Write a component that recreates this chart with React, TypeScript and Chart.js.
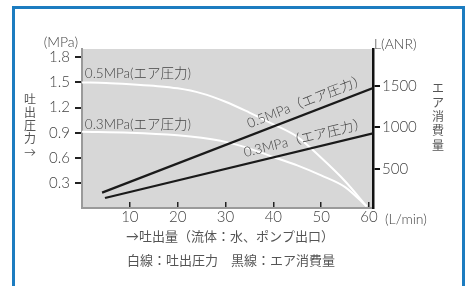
import { useEffect, useRef } from 'react';
import { Chart, registerables } from 'chart.js';

Chart.register(...registerables);

// ---- data ----
const flowTicks = [10, 20, 30, 40, 50, 60];
const pressureTicks = [0.3, 0.6, 0.9, 1.2, 1.5, 1.8];
const airTicks = [500, 1000, 1500];

const flowMin = 0;
const flowMax = 60.83;
const pressureMin = 0;
const pressureMax = 1.9;
const airMin = 30;
const airMax = 1945;

// white lines: discharge pressure (MPa) vs flow (L/min)
const white05Flow = [0, 5, 10, 15, 20, 25, 30, 35, 40, 45, 50, 55, 59.5];
const white05Pressure = [1.5, 1.495, 1.48, 1.46, 1.43, 1.37, 1.27, 1.14, 1.0, 0.85, 0.6, 0.32, 0.02];
const white03Flow = [0, 10, 20, 25, 30, 35, 40, 45, 50, 55, 59.5];
const white03Pressure = [0.91, 0.9, 0.87, 0.84, 0.79, 0.71, 0.61, 0.51, 0.39, 0.25, 0.02];

// black lines: air consumption L(ANR) vs flow
const black05Flow = [4.2, 60.83];
const black05Air = [215, 1475];
const black03Flow = [4.8, 60.83];
const black03Air = [150, 930];

const curveLabels = ['0.5MPa(エア圧力)', '0.3MPa(エア圧力)'];
const curveLabelFlow = [0.6, 0.6];
const curveLabelPressure = [1.61, 1.0];
const lineLabels = ['0.5MPa（エア圧力）', '0.3MPa（エア圧力）'];
const lineLabelStartFlow = [35.5, 34.4];

const leftTitle = ['吐', '出', '圧', '力', '→'];
const rightTitle = ['エ', 'ア', '消', '費', '量'];
const xTitle = '→吐出量（流体：水、ポンプ出口）';
const legendText = '白線：吐出圧力　黒線：エア消費量';

const FAM = 'Lato, "Noto Sans CJK JP", sans-serif';
const TXT = '#444444';

const toPts = (xs: number[], ys: number[]) => xs.map((x, i) => ({ x, y: ys[i] }));

const deco = {
  id: 'deco',
  beforeDraw(chart: any) {
    const { ctx, chartArea: a } = chart;
    ctx.save();
    ctx.fillStyle = '#ffffff';
    ctx.fillRect(0, 0, chart.width, chart.height);
    ctx.strokeStyle = '#1c7cc0';
    ctx.lineWidth = 3;
    ctx.strokeRect(13.5, 7.5, 450, 300);
    ctx.fillStyle = '#d7d7d7';
    ctx.fillRect(a.left, a.top, a.right - a.left, a.bottom - a.top);
    ctx.restore();
  },
  afterDraw(chart: any) {
    const { ctx, chartArea: a, scales } = chart;
    const xs = scales.x;
    const ys = scales.y;
    const y2 = scales.y2;
    ctx.save();
    ctx.fillStyle = TXT;

    // unit labels
    ctx.font = `300 14px ${FAM}`;
    ctx.textBaseline = 'middle';
    ctx.textAlign = 'right';
    ctx.fillText('(MPa)', a.left - 4, a.top - 7);
    ctx.textAlign = 'left';
    ctx.fillText('L(ANR)', a.right + 1, a.top - 5);
    ctx.fillText('(L/min)', a.right + 12, a.bottom + 11);

    // vertical titles
    ctx.fillStyle = '#555';
    ctx.font = `12px ${FAM}`;
    ctx.textAlign = 'center';
    leftTitle.forEach((c, i) => ctx.fillText(c, 30, 100 + i * 13));
    rightTitle.forEach((c, i) => ctx.fillText(c, 438, 89 + i * 14.2));

    // bottom captions
    ctx.font = `13px ${FAM}`;
    ctx.fillText(xTitle, 230, a.bottom + 29);
    ctx.fillText(legendText, 231, a.bottom + 53);

    // horizontal curve labels
    ctx.fillStyle = TXT;
    ctx.textAlign = 'left';
    ctx.font = `300 13.5px ${FAM}`;
    curveLabels.forEach((t, i) => {
      ctx.fillText(t, xs.getPixelForValue(curveLabelFlow[i]), ys.getPixelForValue(curveLabelPressure[i]));
    });

    // rotated labels along black lines
    const lines = [
      [black05Flow, black05Air],
      [black03Flow, black03Air],
    ];
    ctx.textBaseline = 'alphabetic';
    lines.forEach(([fx, fy], i) => {
      const x0 = xs.getPixelForValue(fx[0]);
      const y0 = y2.getPixelForValue(fy[0]);
      const x1 = xs.getPixelForValue(fx[1]);
      const y1 = y2.getPixelForValue(fy[1]);
      const ang = Math.atan2(y1 - y0, x1 - x0);
      const t = (lineLabelStartFlow[i] - fx[0]) / (fx[1] - fx[0]);
      ctx.save();
      ctx.translate(x0 + t * (x1 - x0), y0 + t * (y1 - y0));
      ctx.rotate(ang);
      ctx.fillText(lineLabels[i], 0, -7);
      ctx.restore();
    });
    ctx.restore();
  },
};

export default function App() {
  const ref = useRef<HTMLCanvasElement>(null);
  useEffect(() => {
    document.body.style.margin = '0';
    const tickFont = { family: FAM, size: 15, weight: '300' as any };
    const chart = new Chart(ref.current!, {
      type: 'line',
      data: {
        datasets: [
          {
            data: toPts(black05Flow, black05Air),
            yAxisID: 'y2',
            borderColor: '#1a1a1a',
            borderWidth: 2.2,
            pointRadius: 0,
          },
          {
            data: toPts(black03Flow, black03Air),
            yAxisID: 'y2',
            borderColor: '#1a1a1a',
            borderWidth: 2.2,
            pointRadius: 0,
          },
          {
            data: toPts(white05Flow, white05Pressure),
            yAxisID: 'y',
            borderColor: '#ffffff',
            borderWidth: 2,
            pointRadius: 0,
            cubicInterpolationMode: 'monotone',
          },
          {
            data: toPts(white03Flow, white03Pressure),
            yAxisID: 'y',
            borderColor: '#ffffff',
            borderWidth: 2,
            pointRadius: 0,
            cubicInterpolationMode: 'monotone',
          },
        ],
      },
      plugins: [deco],
      options: {
        animation: false,
        responsive: false,
        devicePixelRatio: 1,
        layout: { padding: { top: 49, left: 0, right: 0, bottom: 0 } },
        plugins: { legend: { display: false }, tooltip: { enabled: false } },
        scales: {
          x: {
            type: 'linear',
            position: 'bottom',
            min: flowMin,
            max: flowMax,
            afterBuildTicks: (s: any) => {
              s.ticks = flowTicks.map((v) => ({ value: v }));
            },
            afterFit: (s: any) => {
              s.height = 78;
            },
            grid: { drawOnChartArea: false, drawTicks: true, tickLength: -6, color: '#222', lineWidth: 1.5 },
            border: { display: true, color: '#9a9a9a', width: 2 },
            ticks: { padding: 6, font: tickFont, color: TXT, maxRotation: 0, callback: (v: any) => String(v) },
          },
          y: {
            type: 'linear',
            position: 'left',
            min: pressureMin,
            max: pressureMax,
            afterBuildTicks: (s: any) => {
              s.ticks = pressureTicks.map((v) => ({ value: v }));
            },
            afterFit: (s: any) => {
              s.width = 82;
            },
            grid: { drawOnChartArea: false, drawTicks: true, tickLength: 7, color: '#222', lineWidth: 2 },
            border: { display: true, color: '#9a9a9a', width: 2 },
            ticks: { padding: 5, font: tickFont, color: TXT, callback: (v: any) => Number(v).toFixed(1) },
          },
          y2: {
            type: 'linear',
            position: 'right',
            min: airMin,
            max: airMax,
            afterBuildTicks: (s: any) => {
              s.ticks = airTicks.map((v) => ({ value: v }));
            },
            afterFit: (s: any) => {
              s.width = 95;
            },
            grid: { drawOnChartArea: false, drawTicks: true, tickLength: 7, color: '#111', lineWidth: 2 },
            border: { display: true, color: '#111', width: 2.5 },
            ticks: { padding: 2, font: tickFont, color: TXT, callback: (v: any) => String(v) },
          },
        },
      } as any,
    });
    return () => chart.destroy();
  }, []);
  return (
    <div style={{ position: 'absolute', left: 0, top: 0, width: 468, height: 286 }}>
      <canvas ref={ref} width={468} height={286} style={{ display: 'block', width: 468, height: 286 }} />
    </div>
  );
}
